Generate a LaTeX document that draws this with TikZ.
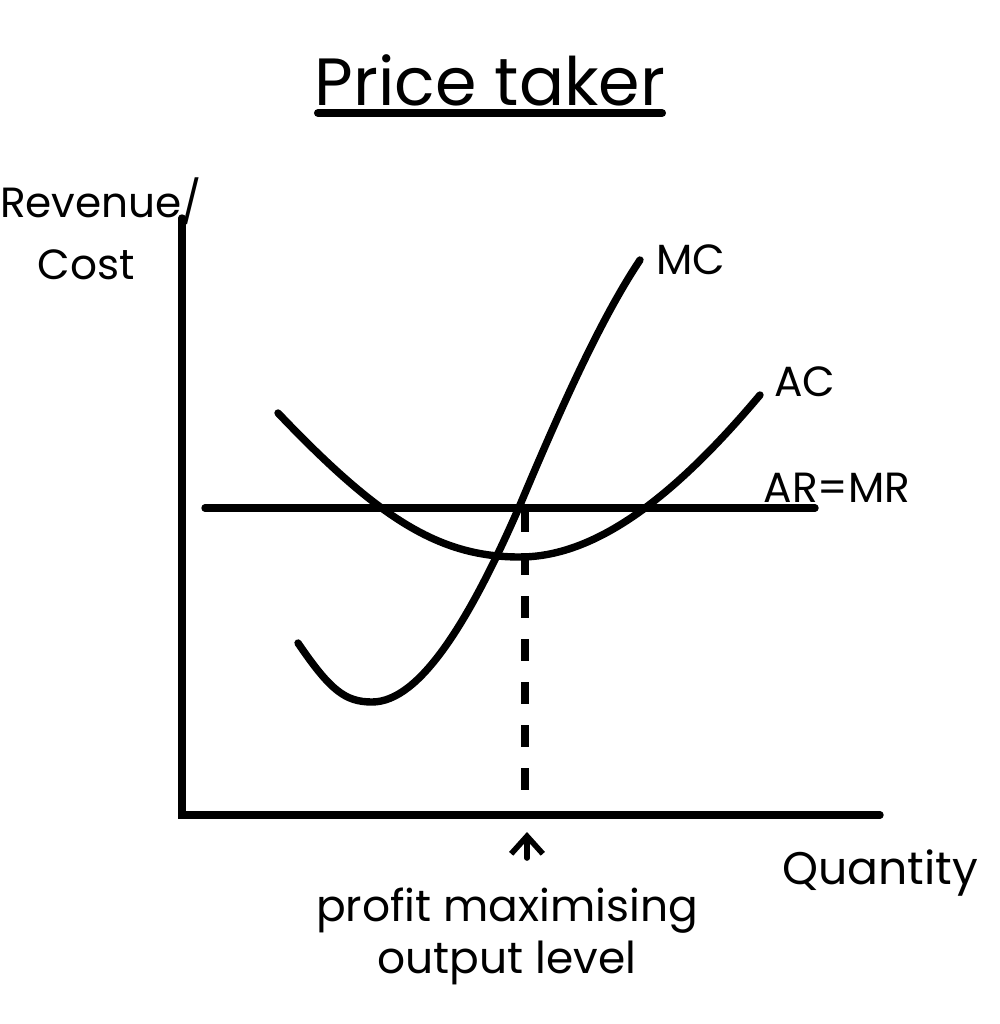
\documentclass[tikz,border=0pt]{standalone}
\usepackage{fontspec}
\setmainfont{Poppins}
\usetikzlibrary{arrows.meta}
\begin{document}
\begin{tikzpicture}[x=0.01cm,y=-0.01cm,
  curve/.style={line width=2.1pt,line cap=round,line join=round},
  lbl/.style={inner sep=0pt,font=\fontsize{12}{14}\selectfont},
  axis/.style={line width=2.1pt,line cap=round}]
\useasboundingbox (0,0) rectangle (999,1024);
% title
\node[inner sep=0pt,font=\fontsize{19}{22}\selectfont] (title) at (490,80) {Price taker};
\draw[line width=2.3pt,line cap=round] (318,113) -- (662,113);
% axes
\coordinate (ytop) at (182,218);
\coordinate (origin) at (182,815);
\coordinate (xend) at (880,815);
\draw[axis] (ytop) -- (origin) -- (xend);
\node[lbl] (ylab1) at (101,201) {Revenue/};
\node[lbl] (ylab2) at (86,265) {Cost};
\node[lbl,font=\fontsize{13}{15}\selectfont] (xlab) at (880,873) {Quantity};
% AR=MR
\coordinate (arl) at (205,508);
\coordinate (arr) at (815,508);
\draw[curve] (arl) -- (arr);
\node[lbl] (arlab) at (837,488) {AR=MR};
% AC
\coordinate (acstart) at (278,413);
\coordinate (acmin) at (520,557);
\coordinate (acend) at (760,395);
\draw[curve] (acstart) .. controls (380,520) and (440,557) .. (acmin)
  .. controls (600,557) and (680,490) .. (acend);
\node[lbl] (aclab) at (805,382) {AC};
% MC
\coordinate (mcstart) at (298,643);
\coordinate (mcmin) at (372,702);
\coordinate (mcmid) at (520,505);
\coordinate (mcend) at (640,260);
\draw[curve] (mcstart) .. controls (330,690) and (345,702) .. (mcmin)
  .. controls (420,702) and (470,620) .. (mcmid)
  .. controls (560,410) and (600,320) .. (mcend);
\node[lbl] (mclab) at (691,260) {MC};
% dashed output line
\coordinate (q) at (525,510);
\coordinate (qx) at (525,815);
\draw[line width=2pt,dash pattern=on 0.22cm off 0.21cm] (q) -- (qx);
% arrow
\coordinate (arrbot) at (527,858);
\coordinate (arrtop) at (527,832);
\draw[line width=1.6pt,line cap=round,-{Straight Barb[length=5pt,width=9pt]}] (arrbot) -- (arrtop);
\node[lbl,align=center,font=\fontsize{12.5}{14.8}\selectfont] (plab) at (507,936) {profit maximising\\output level};
\end{tikzpicture}
\end{document}
